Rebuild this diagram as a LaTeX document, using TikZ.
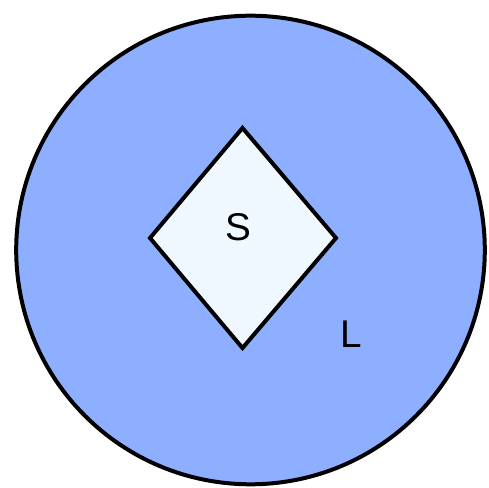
\documentclass[tikz,border=0pt]{standalone}
\usepackage{fontspec}
\setmainfont{Liberation Sans}
\usepackage{xcolor}
\definecolor{outerfill}{RGB}{142,175,255}
\definecolor{innerfill}{RGB}{240,248,255}

\begin{document}
\begin{tikzpicture}[x=0.75pt, y=-0.75pt, line join=miter,
    region/.style={draw=black, line width=3pt},
    setlabel/.style={anchor=base, inner sep=0pt, font=\fontsize{29}{34}\selectfont}]
    \useasboundingbox (0,0) rectangle (489,488);
    % large set
    \draw[region, fill=outerfill] (250.5,250) circle (234.3);
    % small set
    \draw[region, fill=innerfill] (242.5,128) -- (336,238) -- (242.5,348) -- (150,238) -- cycle;
    \node[setlabel] (lblS) at (238.5,241) {S};
    \node[setlabel] (lblL) at (351,347) {L};
\end{tikzpicture}
\end{document}
